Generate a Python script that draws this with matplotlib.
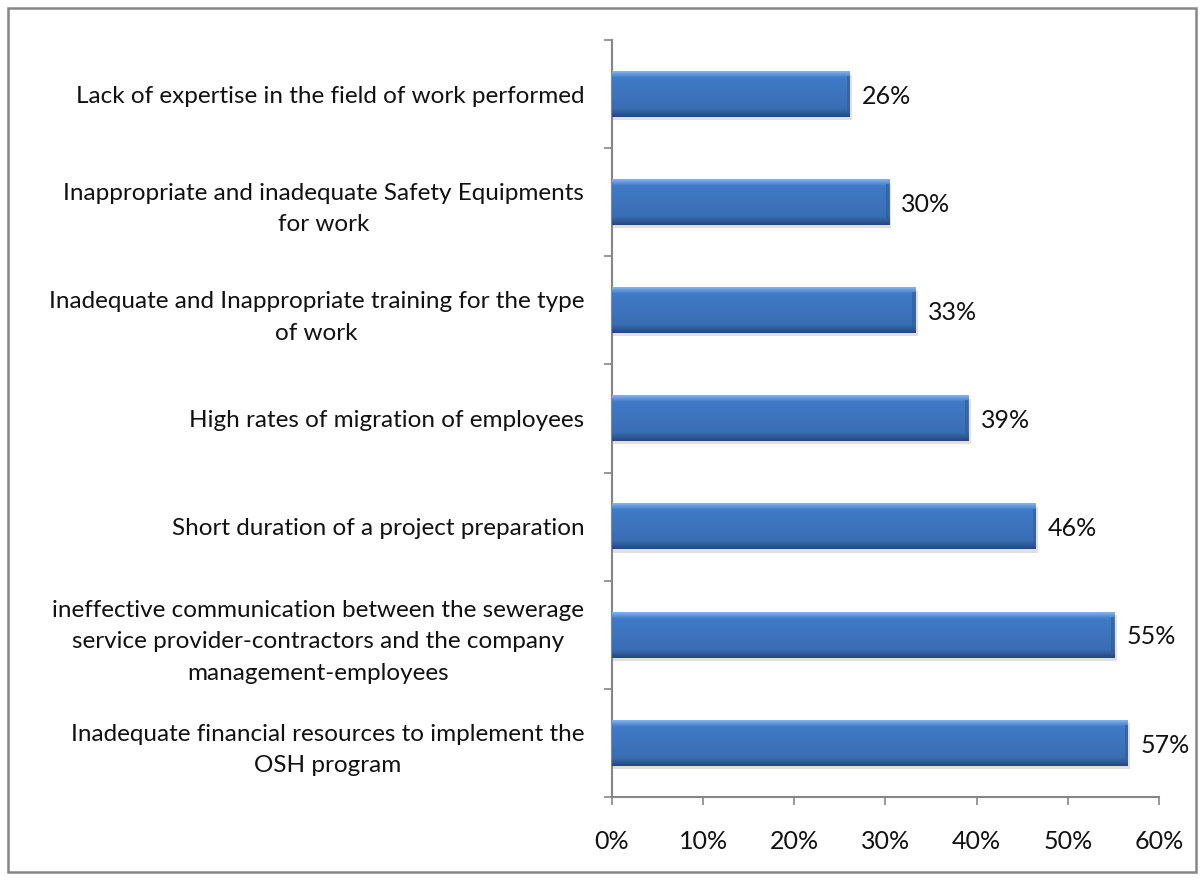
import numpy as np
import matplotlib
matplotlib.use('Agg')
import matplotlib.pyplot as plt
from matplotlib.patches import Rectangle
from matplotlib.ticker import FixedLocator

plt.rcParams['font.family'] = ['Lato', 'DejaVu Sans']

# categories top to bottom
categories = [
    'Lack of expertise in the field of work performed',
    'Inappropriate and inadequate Safety Equipments\nfor work',
    'Inadequate and Inappropriate training for the type\nof work',
    'High rates of migration of employees',
    'Short duration of a project preparation',
    'ineffective communication between the sewerage\nservice provider-contractors and the company\nmanagement-employees',
    'Inadequate financial resources to implement the\nOSH program',
]
values = [26.1, 30.4, 33.3, 39.1, 46.5, 55.1, 56.6]
value_labels = ['26%', '30%', '33%', '39%', '46%', '55%', '57%']
xticks = [0, 10, 20, 30, 40, 50, 60]

fig = plt.figure(figsize=(12.04, 8.8), dpi=100)
ax = fig.add_axes([0.5083, 0.0943, 0.4543, 0.8602])

n = len(categories)
ypos = np.arange(n)[::-1]
h = 0.42

# vertical gradient for the bevelled look
top = np.array([0.50, 0.70, 0.93])
mid = np.array([0.25, 0.48, 0.78])
bot = np.array([0.15, 0.28, 0.50])
cols = []
for g in np.linspace(0, 1, 64):
    if g < 0.14:
        c = top + (mid - top) * g / 0.14
    elif g < 0.82:
        c = mid + (mid * 0.9 - mid) * (g - 0.14) / 0.68
    else:
        c = mid * 0.9 + (bot - mid * 0.9) * (g - 0.82) / 0.18
    cols.append(c)
img = np.array(cols)[:, None, :]

for y, v, lab in zip(ypos, values, value_labels):
    # shadow
    ax.barh(y - 0.03, v + 0.25, height=h, color='#000000', alpha=0.12, zorder=1)
    ax.barh(y, v, height=h, color='#3a72bd', zorder=2)
    ax.imshow(img, extent=(0, v, y - h / 2, y + h / 2), aspect='auto',
              origin='upper', zorder=3, interpolation='bilinear')
    # right bevel edge
    ax.barh(y, 0.35, left=v - 0.35, height=h * 0.8, color='#2d5d9c', alpha=0.6, zorder=4)
    ax.text(v + 1.35, y - 0.02, lab, va='center', ha='left', fontsize=18, color='#111111')

ax.set_xlim(0, 60)
ax.set_ylim(-0.5, n - 0.5)
ax.set_xticks(xticks)
ax.set_xticklabels([f'{t}%' for t in xticks], fontsize=18, color='#111111')
ax.set_yticks(ypos)
ax.set_yticklabels(categories, fontsize=17.5, color='#111111', multialignment='center',
                   linespacing=1.6)
ax.yaxis.set_minor_locator(FixedLocator(np.arange(-0.5, n, 1.0)))
ax.tick_params(axis='y', which='major', length=0, pad=20)
ax.tick_params(axis='y', which='minor', length=6, color='#868686', width=1.2)
ax.tick_params(axis='x', length=6, color='#868686', width=1.2, pad=18)

for s in ['top', 'right']:
    ax.spines[s].set_visible(False)
for s in ['left', 'bottom']:
    ax.spines[s].set_color('#868686')
    ax.spines[s].set_linewidth(1.5)

fig.patches.append(Rectangle((8 / 1204, 8 / 880), 1188 / 1204, 864 / 880,
                             transform=fig.transFigure, fill=False,
                             edgecolor='#868686', linewidth=1.8))

fig.savefig('out.png', dpi=100)
